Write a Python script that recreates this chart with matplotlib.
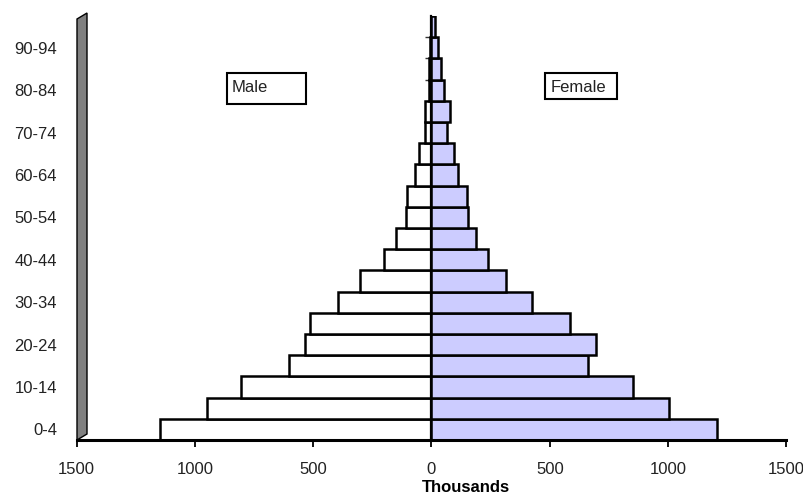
"""
Population pyramid (male / female, thousands) by 5-year age group
"""

import matplotlib
matplotlib.use("Agg")
import matplotlib.pyplot as plt
import numpy as np
from matplotlib.patches import Polygon, Rectangle

plt.rcParams["font.family"] = ["Liberation Sans", "DejaVu Sans"]

#-------------------------------- Data --------------------------------#
AGE_GROUPS = ["0-4", "5-9", "10-14", "15-19", "20-24", "25-29", "30-34", "35-39",
              "40-44", "45-49", "50-54", "55-59", "60-64", "65-69", "70-74",
              "75-79", "80-84", "85-89", "90-94", "95-99"]
MALE = [1147, 950, 805, 604, 535, 512, 397, 302, 199, 149,
        109, 104, 68, 52, 28, 28, 10, 10, 6, 4]
FEMALE = [1205, 1004, 853, 661, 694, 584, 424, 313, 237, 188,
          154, 150, 114, 97, 67, 77, 53, 42, 28, 15]
X_TICKS = [-1500, -1000, -500, 0, 500, 1000, 1500]

W, H = 804, 499
TEXT_COLOR = "#222222"


def px_box(x0, y0, x1, y1):
    """Pixel box (top-left origin) -> figure fraction rect."""
    return x0 / W, 1 - y1 / H, (x1 - x0) / W, (y1 - y0) / H


# --------------------------- Figure --------------------------#
fig = plt.figure(figsize=(W / 100, H / 100), dpi=100)
ax = fig.add_axes([76.5 / W, 1 - 440 / H, 710 / W, 424 / H])

y = np.arange(len(AGE_GROUPS))
ax.barh(y, -np.array(MALE), height=1.0, color="white", edgecolor="black", linewidth=1.8, zorder=2)
ax.barh(y, FEMALE, height=1.0, color="#CCCCFF", edgecolor="black", linewidth=1.8, zorder=2)

ax.set_xlim(-1500, 1500)
ax.set_ylim(-0.5, len(AGE_GROUPS) - 0.5)

# x axis
ax.set_xticks(X_TICKS)
ax.set_xticklabels([str(abs(v)) for v in X_TICKS])
ax.tick_params(axis="x", direction="out", length=5, width=1.3, pad=10.5,
               labelsize=12, labelcolor=TEXT_COLOR)

# y axis: labels every other group, small ticks on the centre line
ax.set_yticks(y[::2])
ax.set_yticklabels(AGE_GROUPS[::2])
ax.set_yticks(y[:-1] + 0.5, minor=True)
ax.tick_params(axis="y", which="major", length=0, pad=14, labelsize=12, labelcolor=TEXT_COLOR)
ax.tick_params(axis="y", which="minor", left=False, right=True, direction="in",
               length=4, width=1, color="#333333")

for side in ["top", "left"]:
    ax.spines[side].set_visible(False)
ax.spines["bottom"].set_linewidth(2.2)
ax.spines["right"].set_position(("data", 0))
ax.spines["right"].set_linewidth(1.6)
ax.spines["right"].set_zorder(3)

# grey side wall (3D look of the original Excel chart)
def wall_pt(px, py):
    return (px - 76.5) / 710, (440 - py) / 424

wall = Polygon([wall_pt(77, 440), wall_pt(87, 434), wall_pt(87, 13), wall_pt(77, 19)],
               closed=True, transform=ax.transAxes, facecolor="#808080",
               edgecolor="black", linewidth=1.0, clip_on=False, zorder=4)
ax.add_patch(wall)

# Male / Female label boxes
for (x0, y0, x1, y1), label, tx in [((227, 73, 306, 104), "Male", 232),
                                     ((545, 73, 617, 99), "Female", 551)]:
    l, b, w, h = px_box(x0, y0, x1, y1)
    fig.patches.append(Rectangle((l, b), w, h, transform=fig.transFigure,
                                 facecolor="white", edgecolor="black", linewidth=1.5))
    fig.text(tx / W, 1 - 87.5 / H, label, ha="left", va="center", fontsize=12, color=TEXT_COLOR)

fig.text(466 / W, 1 - 488 / H, "Thousands", ha="center", va="center",
         fontsize=12, fontweight="bold", color="black")

fig.savefig("out.png", dpi=100)
